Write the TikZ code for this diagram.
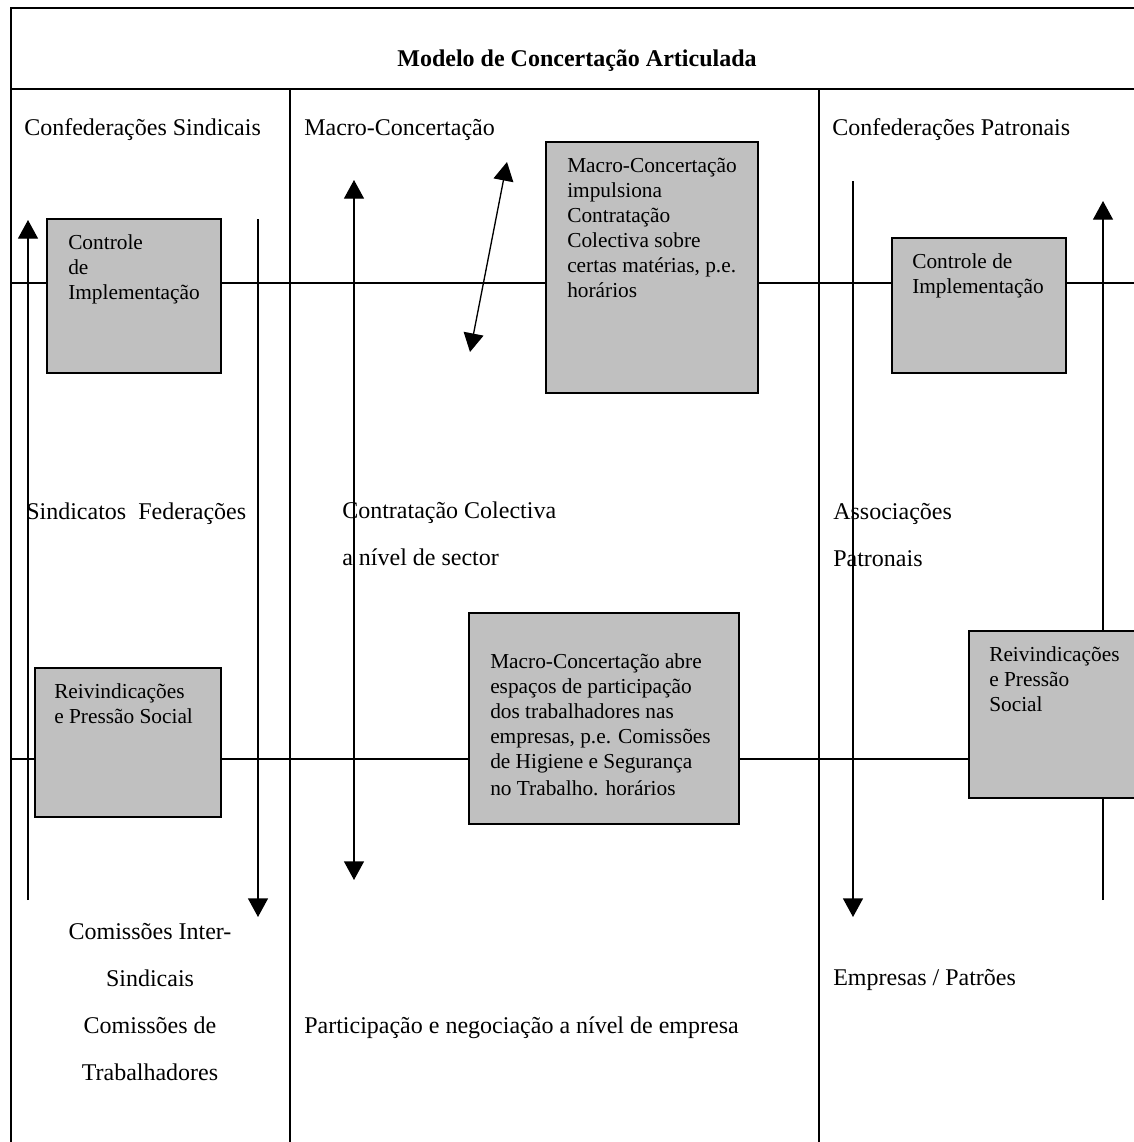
\documentclass[tikz,border=0pt]{standalone}
\usepackage{fontspec}
\setmainfont{Liberation Serif}
\usetikzlibrary{arrows.meta,fit}
\definecolor{PanelGray}{RGB}{192,192,192}

\begin{document}
\begin{tikzpicture}[x=0.75pt, y=-0.75pt,
  rule/.style={line width=1.5pt},
  flow/.style={line width=1pt, -{Triangle[width=15pt,length=14pt]}},
  twoway/.style={line width=1pt, {Triangle[width=15pt,length=14pt]}-{Triangle[width=15pt,length=14pt]}},
  panel/.style={draw, line width=1.1pt, fill=PanelGray, inner sep=0pt},
  paneltext/.style={anchor=base west, align=left, inner sep=0pt, font=\fontsize{16}{18.75}\selectfont},
  colhead/.style={anchor=base west, align=left, inner sep=0pt, font=\fontsize{18}{35.25}\selectfont}]
  \useasboundingbox (0,0) rectangle (1134,1142);

  % Frame, title row and the three columns
  \coordinate (TL) at (11,8);
  \coordinate (TR) at (1136,8);
  \coordinate (BL) at (11,1144);
  \draw[rule] (BL) -- (TL) -- (TR);
  \draw[rule] (11,89) -- (1136,89);
  \draw[rule] (290,89) -- (290,1144);
  \draw[rule] (819,89) -- (819,1144);

  % Two levels crossing the columns
  \draw[rule] (11,283) -- (1136,283);
  \draw[rule] (11,759) -- (1136,759);

  % Arrow end points
  \coordinate (sUpA) at (28,900);   \coordinate (sUpB) at (28,220);
  \coordinate (sDnA) at (258,219);  \coordinate (sDnB) at (258,917);
  \coordinate (mVA) at (354,180);   \coordinate (mVB) at (354,880);
  \coordinate (mDA) at (507,162);   \coordinate (mDB) at (470,352);
  \coordinate (pDnA) at (853,181);  \coordinate (pDnB) at (853,917);
  \coordinate (pUpA) at (1103,900); \coordinate (pUpB) at (1103,201);

  \draw[flow] (sUpA) -- (sUpB);
  \draw[flow] (sDnA) -- (sDnB);
  \draw[twoway] (mVA) -- (mVB);
  \draw[twoway] (mDA) -- (mDB);
  \draw[flow] (pDnA) -- (pDnB);
  \draw[flow] (pUpA) -- (pUpB);

  % Grey panels (texts placed by the baseline of their last line)
  \node[panel, fit={(47,219) (221,373)}] (ctlSind) {};
  \node[panel, fit={(35,668) (221,817)}] (reivSind) {};
  \node[panel, fit={(546,142) (758,393)}] (macroA) {};
  \node[panel, fit={(469,613) (739,824)}] (macroB) {};
  \node[panel, fit={(892,238) (1066,373)}] (ctlPatr) {};
  \node[panel, fit={(969,631) (1136,798)}] (reivPatr) {};

  \node[paneltext] (ctlSindTxt) at (68,299) {Controle\\de\\Implementação};
  \node[paneltext] (reivSindTxt) at (54,723) {Reivindicações\\e Pressão Social};
  \node[paneltext] (macroATxt) at (567,297) {Macro-Concertação\\impulsiona\\Contratação\\Colectiva sobre\\certas matérias, p.e.\\horários};
  \node[paneltext] (macroBTxt) at (490,795) {Macro-Concertação abre\\espaços de participação\\dos trabalhadores nas\\empresas, p.e. Comissões\\de Higiene e Segurança\\[1.5pt]no Trabalho. horários};
  \node[paneltext] (ctlPatrTxt) at (912,293) {Controle de\\Implementação};
  \node[paneltext] (reivPatrTxt) at (989,711) {Reivindicações\\e Pressão\\Social};

  % Title and column texts
  \node[anchor=base, inner sep=0pt, font=\fontsize{18}{22}\selectfont\bfseries] (title) at (577,66) {Modelo de Concertação Articulada};
  \node[colhead] (confSind) at (24,135) {Confederações Sindicais};
  \node[colhead] (macroHead) at (304,135) {Macro-Concertação};
  \node[colhead] (confPatr) at (832,135) {Confederações Patronais};
  \node[colhead] (sindFed) at (26,519) {Sindicatos~ Federações};
  \node[colhead] (contrat) at (342,565) {Contratação Colectiva\\a nível de sector};
  \node[colhead] (assoc) at (833,566) {Associações\\Patronais};
  \node[colhead, anchor=base, align=center] (comiss) at (150,1080) {Comissões Inter-\\Sindicais\\Comissões de\\Trabalhadores};
  \node[colhead] (particip) at (304,1033) {Participação e negociação a nível de empresa};
  \node[colhead] (empresas) at (833,985) {Empresas / Patrões};
\end{tikzpicture}
\end{document}
